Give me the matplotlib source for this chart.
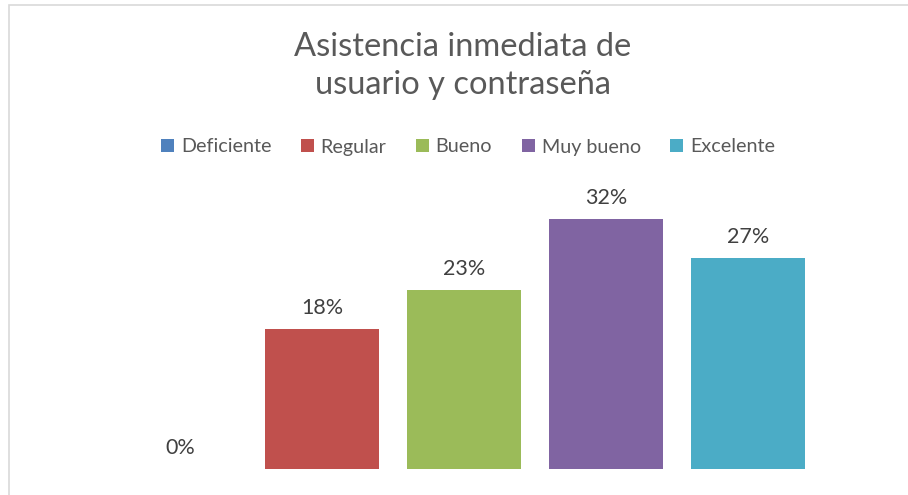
import matplotlib
matplotlib.use("Agg")
import matplotlib.pyplot as plt
from matplotlib.patches import Patch, Rectangle

categories = ["Deficiente", "Regular", "Bueno", "Muy bueno", "Excelente"]
values = [0, 18, 23, 32, 27]
labels = ["0%", "18%", "23%", "32%", "27%"]
colors = ["#4F81BD", "#C0504D", "#9BBB59", "#8064A2", "#4BACC6"]
title = "Asistencia inmediata de\nusuario y contraseña"

plt.rcParams['font.family'] = ['Lato', 'DejaVu Sans']
W, H = 908, 495
fig = plt.figure(figsize=(W/100, H/100), dpi=100)
fig.patch.set_facecolor("white")

# frame
fig.add_artist(Rectangle((8.5/W, -0.1), 1.2, (H-5.5)/H + 0.1, transform=fig.transFigure,
                         fill=False, edgecolor="#D9D9D9", linewidth=1.2))

x0, x1 = 109/W, 819/W
y0 = (H-469)/H
ytop = 196
ax = fig.add_axes([x0, y0, x1-x0, (469-ytop)/H])
xs = list(range(len(categories)))
ax.bar(xs, values, width=0.80, color=colors)
ax.set_xlim(-0.5, 4.5)
ax.set_ylim(0, 35)
for x, v, l in zip(xs, values, labels):
    ax.text(x, v + 1.4, l, ha="center", va="bottom", fontsize=15.5, color="#404040")
ax.axis("off")

fig.text(463/W, 1 - 66/H, title, ha="center", va="center", fontsize=23.5,
         color="#595959", linespacing=1.3)

handles = [Patch(facecolor=c, edgecolor="none") for c in colors]
fig.legend(handles, categories, loc="center", bbox_to_anchor=(468/W, 1 - 147/H),
           ncol=5, frameon=False, fontsize=14.2, handlelength=0.65, handleheight=0.65,
           handletextpad=0.35, columnspacing=1.5, labelcolor="#595959")

fig.savefig("out.png", dpi=100)
